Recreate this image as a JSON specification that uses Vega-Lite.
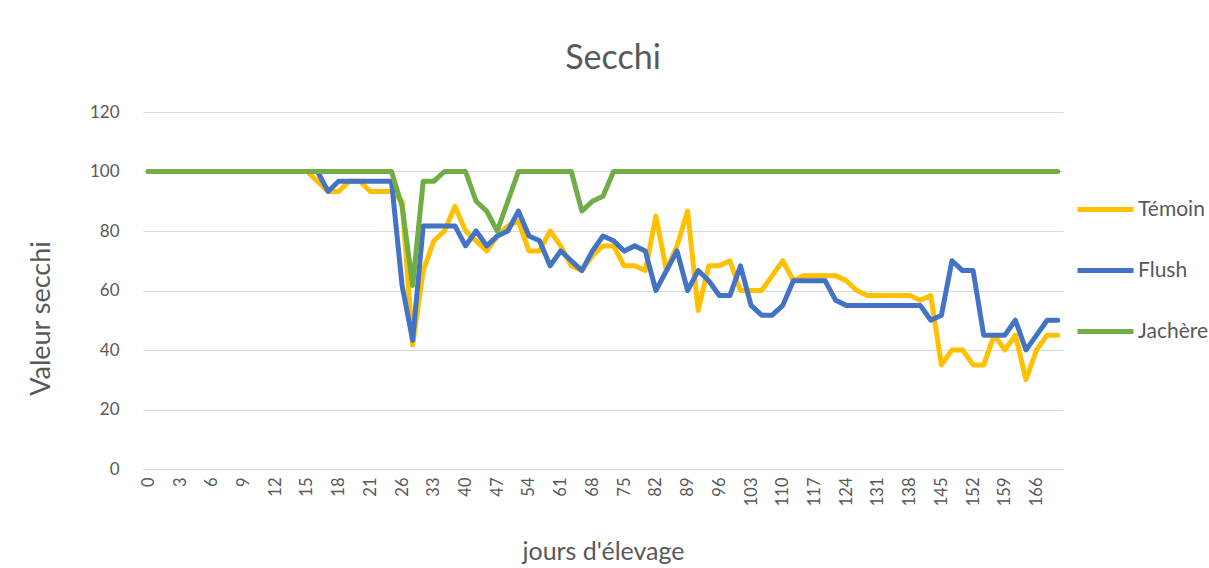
{
"$schema": "https://vega.github.io/schema/vega-lite/v6.json",
"width": 920, "height": 357,
"autosize": "none",
"padding": {"left": 143, "top": 112, "right": 146, "bottom": 99},
"background": "white",
"config": {"view": {"stroke": null}, "font": "Lato"},
"title": {"text": "Secchi", "fontSize": 34, "font": "Lato", "fontWeight": "normal", "color": "#595959", "anchor": "middle", "dx": 10, "offset": 27},
"data": {"values": [
{"jour":0,"Témoin":100,"Flush":100,"Jachère":100},
{"jour":1,"Témoin":100,"Flush":100,"Jachère":100},
{"jour":2,"Témoin":100,"Flush":100,"Jachère":100},
{"jour":3,"Témoin":100,"Flush":100,"Jachère":100},
{"jour":4,"Témoin":100,"Flush":100,"Jachère":100},
{"jour":5,"Témoin":100,"Flush":100,"Jachère":100},
{"jour":6,"Témoin":100,"Flush":100,"Jachère":100},
{"jour":7,"Témoin":100,"Flush":100,"Jachère":100},
{"jour":8,"Témoin":100,"Flush":100,"Jachère":100},
{"jour":9,"Témoin":100,"Flush":100,"Jachère":100},
{"jour":10,"Témoin":100,"Flush":100,"Jachère":100},
{"jour":11,"Témoin":100,"Flush":100,"Jachère":100},
{"jour":12,"Témoin":100,"Flush":100,"Jachère":100},
{"jour":13,"Témoin":100,"Flush":100,"Jachère":100},
{"jour":14,"Témoin":100,"Flush":100,"Jachère":100},
{"jour":15,"Témoin":100,"Flush":100,"Jachère":100},
{"jour":16,"Témoin":96.7,"Flush":100,"Jachère":100},
{"jour":17,"Témoin":93.3,"Flush":93.3,"Jachère":100},
{"jour":18,"Témoin":93.3,"Flush":96.7,"Jachère":100},
{"jour":19,"Témoin":96.7,"Flush":96.7,"Jachère":100},
{"jour":20,"Témoin":96.7,"Flush":96.7,"Jachère":100},
{"jour":21,"Témoin":93.3,"Flush":96.7,"Jachère":100},
{"jour":22,"Témoin":93.3,"Flush":96.7,"Jachère":100},
{"jour":24,"Témoin":93.3,"Flush":96.7,"Jachère":100},
{"jour":26,"Témoin":90,"Flush":61.7,"Jachère":88.3},
{"jour":28,"Témoin":41.7,"Flush":43.3,"Jachère":61.7},
{"jour":30,"Témoin":66.7,"Flush":81.7,"Jachère":96.7},
{"jour":33,"Témoin":76.7,"Flush":81.7,"Jachère":96.7},
{"jour":35,"Témoin":80,"Flush":81.7,"Jachère":100},
{"jour":37,"Témoin":88.3,"Flush":81.7,"Jachère":100},
{"jour":40,"Témoin":80,"Flush":75,"Jachère":100},
{"jour":42,"Témoin":76.7,"Flush":80,"Jachère":90},
{"jour":44,"Témoin":73.3,"Flush":75,"Jachère":86.7},
{"jour":47,"Témoin":78.3,"Flush":78.3,"Jachère":80},
{"jour":49,"Témoin":81.7,"Flush":80,"Jachère":90},
{"jour":51,"Témoin":83.3,"Flush":86.7,"Jachère":100},
{"jour":54,"Témoin":73.3,"Flush":78.3,"Jachère":100},
{"jour":56,"Témoin":73.3,"Flush":76.7,"Jachère":100},
{"jour":58,"Témoin":80,"Flush":68.3,"Jachère":100},
{"jour":61,"Témoin":75,"Flush":73.3,"Jachère":100},
{"jour":63,"Témoin":68.3,"Flush":70,"Jachère":100},
{"jour":65,"Témoin":66.7,"Flush":66.7,"Jachère":86.7},
{"jour":68,"Témoin":71.7,"Flush":73.3,"Jachère":90},
{"jour":70,"Témoin":75,"Flush":78.3,"Jachère":91.7},
{"jour":72,"Témoin":75,"Flush":76.7,"Jachère":100},
{"jour":75,"Témoin":68.3,"Flush":73.3,"Jachère":100},
{"jour":77,"Témoin":68.3,"Flush":75,"Jachère":100},
{"jour":79,"Témoin":66.7,"Flush":73.3,"Jachère":100},
{"jour":82,"Témoin":85,"Flush":60,"Jachère":100},
{"jour":84,"Témoin":66.7,"Flush":66.7,"Jachère":100},
{"jour":86,"Témoin":75,"Flush":73.3,"Jachère":100},
{"jour":89,"Témoin":86.7,"Flush":60,"Jachère":100},
{"jour":91,"Témoin":53.3,"Flush":66.7,"Jachère":100},
{"jour":93,"Témoin":68.3,"Flush":63.3,"Jachère":100},
{"jour":96,"Témoin":68.3,"Flush":58.3,"Jachère":100},
{"jour":98,"Témoin":70,"Flush":58.3,"Jachère":100},
{"jour":100,"Témoin":60,"Flush":68.3,"Jachère":100},
{"jour":103,"Témoin":60,"Flush":55,"Jachère":100},
{"jour":105,"Témoin":60,"Flush":51.7,"Jachère":100},
{"jour":107,"Témoin":65,"Flush":51.7,"Jachère":100},
{"jour":110,"Témoin":70,"Flush":55,"Jachère":100},
{"jour":112,"Témoin":63.3,"Flush":63.3,"Jachère":100},
{"jour":114,"Témoin":65,"Flush":63.3,"Jachère":100},
{"jour":117,"Témoin":65,"Flush":63.3,"Jachère":100},
{"jour":119,"Témoin":65,"Flush":63.3,"Jachère":100},
{"jour":121,"Témoin":65,"Flush":56.7,"Jachère":100},
{"jour":124,"Témoin":63.3,"Flush":55,"Jachère":100},
{"jour":126,"Témoin":60,"Flush":55,"Jachère":100},
{"jour":128,"Témoin":58.3,"Flush":55,"Jachère":100},
{"jour":131,"Témoin":58.3,"Flush":55,"Jachère":100},
{"jour":133,"Témoin":58.3,"Flush":55,"Jachère":100},
{"jour":135,"Témoin":58.3,"Flush":55,"Jachère":100},
{"jour":138,"Témoin":58.3,"Flush":55,"Jachère":100},
{"jour":140,"Témoin":56.7,"Flush":55,"Jachère":100},
{"jour":142,"Témoin":58.3,"Flush":50,"Jachère":100},
{"jour":145,"Témoin":35,"Flush":51.7,"Jachère":100},
{"jour":147,"Témoin":40,"Flush":70,"Jachère":100},
{"jour":149,"Témoin":40,"Flush":66.7,"Jachère":100},
{"jour":152,"Témoin":35,"Flush":66.7,"Jachère":100},
{"jour":154,"Témoin":35,"Flush":45,"Jachère":100},
{"jour":156,"Témoin":45,"Flush":45,"Jachère":100},
{"jour":159,"Témoin":40,"Flush":45,"Jachère":100},
{"jour":161,"Témoin":45,"Flush":50,"Jachère":100},
{"jour":163,"Témoin":30,"Flush":40,"Jachère":100},
{"jour":166,"Témoin":40,"Flush":45,"Jachère":100},
{"jour":168,"Témoin":45,"Flush":50,"Jachère":100},
{"jour":170,"Témoin":45,"Flush":50,"Jachère":100}
]},
"transform": [{"fold": ["Témoin", "Flush", "Jachère"], "as": ["serie", "valeur"]}],
"mark": {"type": "line", "strokeWidth": 5, "strokeJoin": "round", "strokeCap": "round"},
"encoding": {
  "x": {"field": "jour", "type": "ordinal", "scale": {"type": "point", "padding": 0.5},
    "axis": {"values": [0,3,6,9,12,15,18,21,26,33,40,47,54,61,68,75,82,89,96,103,110,117,124,131,138,145,152,159,166],
      "labelAngle": -90, "labelFontSize": 16.5, "labelColor": "#595959", "labelPadding": 8, "ticks": false, "grid": false,
      "domainColor": "#d9d9d9", "domainWidth": 1,
      "title": "jours d'élevage", "titleFontSize": 25, "titleFontWeight": "normal", "titleColor": "#595959", "titlePadding": 34}},
  "y": {"field": "valeur", "type": "quantitative", "scale": {"domain": [0, 120]},
    "axis": {"values": [0,20,40,60,80,100,120], "labelFontSize": 17, "labelColor": "#595959", "labelPadding": 24,
      "ticks": false, "domain": false, "grid": true, "gridColor": "#d9d9d9", "gridWidth": 1,
      "title": "Valeur secchi", "titleFontSize": 27, "titleFontWeight": "normal", "titleColor": "#595959", "titlePadding": 34, "titleY": 206}},
  "color": {"field": "serie", "type": "nominal",
    "scale": {"domain": ["Témoin", "Flush", "Jachère"], "range": ["#FFC000", "#4472C4", "#70AD47"]},
    "legend": {"orient": "none", "legendX": 932, "legendY": 67, "title": null, "symbolType": "stroke", "symbolSize": 3136,
      "symbolStrokeWidth": 5, "labelFontSize": 21, "labelColor": "#595959", "labelOffset": 2, "rowPadding": 20}}
}
}
